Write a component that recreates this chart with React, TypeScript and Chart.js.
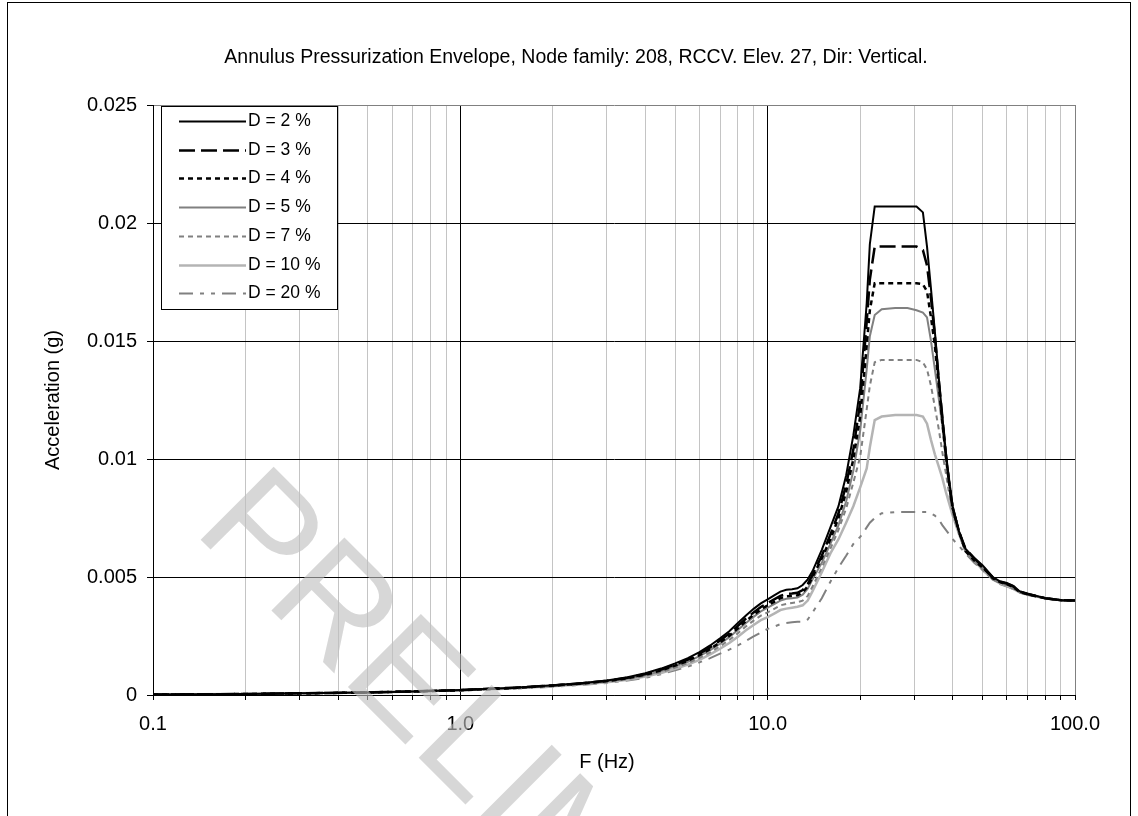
import React, { useEffect, useRef } from 'react';
import { Chart, registerables } from 'chart.js';

Chart.register(...registerables);

const FONT = "'Liberation Sans', Arial, sans-serif";

const TITLE = 'Annulus Pressurization Envelope, Node family: 208, RCCV. Elev. 27, Dir: Vertical.';
const X_TITLE = 'F (Hz)';
const Y_TITLE = 'Acceleration (g)';
const WATERMARK = 'PRELIMINARY';

// Frequencies (Hz)
const freq = [
  0.1, 0.2, 0.3, 0.5, 0.7, 1.0, 1.5, 2.0, 2.5, 3.0, 3.5, 4.0, 4.5, 5.0, 5.5, 6.0, 6.5, 7.0, 7.5, 8.0, 8.5, 9.0, 9.5,
  10.0, 10.5, 11.0, 11.5, 12.0, 12.5, 13.0, 13.5,
  14.0, 15.0, 16.0, 17.0, 18.0, 19.0, 20.0, 21.0, 21.5,
  22.3, 23.5, 26.0, 28.5, 30.5, 32.0,
  33.0, 34.0, 35.0, 36.0, 37.0, 38.0, 39.0, 40.0, 42.0,
  44.0, 47.0, 50.0, 52.0, 54.0, 57.0, 60.0, 63.0, 66.0, 70.0, 80.0, 90.0, 100.0,
];

const d2 = [
  0.00002, 0.00004, 0.00007, 0.00011, 0.00015, 0.00021, 0.00031, 0.00041, 0.00051, 0.00061, 0.00075, 0.00092, 0.00112, 0.00134, 0.00156, 0.00182, 0.0021, 0.0024, 0.0027, 0.00305, 0.00337, 0.00365, 0.00388,
  0.00405, 0.00422, 0.00438, 0.00446, 0.00448, 0.00452, 0.00466, 0.0049,
  0.00525, 0.00615, 0.0071, 0.008, 0.0093, 0.011, 0.013, 0.0166, 0.0191,
  0.0207, 0.0207, 0.0207, 0.0207, 0.0207, 0.02045,
  0.019, 0.0172, 0.0154, 0.0135, 0.0118, 0.0103, 0.009, 0.008, 0.0069,
  0.0062, 0.0058, 0.0055, 0.00525, 0.005, 0.00482, 0.00475, 0.00462, 0.0044, 0.0043, 0.0041, 0.00402, 0.004,
];

const d3 = [
  0.00002, 0.00004, 0.00007, 0.00011, 0.00015, 0.00021, 0.00031, 0.0004, 0.0005, 0.0006, 0.00073, 0.00089, 0.00108, 0.00129, 0.0015, 0.00175, 0.00202, 0.00231, 0.0026, 0.00293, 0.00324, 0.0035, 0.00373,
  0.0039, 0.00405, 0.0042, 0.00428, 0.0043, 0.00433, 0.00445, 0.0047,
  0.0051, 0.0059, 0.0068, 0.0077, 0.0089, 0.0104, 0.0124, 0.0158, 0.0176,
  0.019, 0.019, 0.019, 0.019, 0.019, 0.01885,
  0.0182, 0.0168, 0.0152, 0.0134, 0.0118, 0.0102, 0.0089, 0.0079, 0.0069,
  0.0062, 0.0058, 0.00545, 0.0052, 0.00498, 0.0048, 0.00472, 0.0046, 0.00438, 0.00428, 0.0041, 0.00402, 0.004,
];

const d4 = [
  0.00002, 0.00004, 0.00007, 0.00011, 0.00015, 0.0002, 0.0003, 0.0004, 0.00049, 0.00059, 0.00071, 0.00086, 0.00104, 0.00125, 0.00145, 0.00169, 0.00195, 0.00223, 0.00251, 0.00283, 0.00313, 0.0034, 0.00362,
  0.0038, 0.00395, 0.0041, 0.00418, 0.0042, 0.00423, 0.00435, 0.0046,
  0.005, 0.0058, 0.0066, 0.0075, 0.0086, 0.01, 0.0118, 0.0148, 0.0163,
  0.01745, 0.01745, 0.01745, 0.01745, 0.01745, 0.0174,
  0.0171, 0.016, 0.0148, 0.0132, 0.0116, 0.0101, 0.0089, 0.0079, 0.0069,
  0.0061, 0.0057, 0.0054, 0.0052, 0.00495, 0.00478, 0.0047, 0.00457, 0.00437, 0.00427, 0.0041, 0.00402, 0.004,
];

const d5 = [
  0.00002, 0.00004, 0.00007, 0.00011, 0.00015, 0.0002, 0.0003, 0.00039, 0.00048, 0.00058, 0.0007, 0.00084, 0.00102, 0.00122, 0.00141, 0.00165, 0.0019, 0.00217, 0.00245, 0.00276, 0.00305, 0.00331, 0.00354,
  0.0037, 0.00385, 0.004, 0.00408, 0.0041, 0.00413, 0.00425, 0.0045,
  0.0049, 0.0056, 0.0064, 0.0072, 0.0082, 0.0095, 0.0112, 0.0138, 0.0152,
  0.0161, 0.01635, 0.0164, 0.0164, 0.0163, 0.0162,
  0.016, 0.015, 0.0138, 0.0126, 0.0114, 0.0101, 0.0091, 0.008, 0.0069,
  0.0061, 0.0057, 0.0054, 0.00515, 0.0049, 0.00476, 0.00468, 0.00455, 0.00436, 0.00426, 0.0041, 0.00402, 0.004,
];

const d7 = [
  0.00002, 0.00004, 0.00007, 0.00011, 0.00015, 0.0002, 0.00029, 0.00038, 0.00047, 0.00056, 0.00067, 0.00081, 0.00097, 0.00116, 0.00135, 0.00157, 0.00181, 0.00207, 0.00233, 0.00262, 0.00291, 0.00315, 0.00336,
  0.0035, 0.00365, 0.0038, 0.00386, 0.0039, 0.00393, 0.004, 0.0042,
  0.0046, 0.0054, 0.0062, 0.007, 0.0079, 0.009, 0.0101, 0.0121, 0.0131,
  0.0141, 0.0142, 0.0142, 0.0142, 0.0142, 0.0141,
  0.0138, 0.0131, 0.0122, 0.0113, 0.0103, 0.0094, 0.0085, 0.0077, 0.0068,
  0.0061, 0.0057, 0.0053, 0.0051, 0.0049, 0.00475, 0.00465, 0.0045, 0.00435, 0.00425, 0.0041, 0.00402, 0.004,
];

const d10 = [
  0.00002, 0.00004, 0.00007, 0.00011, 0.00015, 0.0002, 0.00029, 0.00037, 0.00046, 0.00054, 0.00065, 0.00078, 0.00093, 0.00111, 0.00129, 0.00149, 0.00172, 0.00196, 0.0022, 0.00247, 0.00274, 0.00297, 0.00317,
  0.0033, 0.00345, 0.0036, 0.00366, 0.0037, 0.00374, 0.0038, 0.004,
  0.0044, 0.0052, 0.006, 0.0066, 0.0073, 0.008, 0.0088, 0.0096, 0.0105,
  0.01165, 0.0118, 0.01186, 0.01186, 0.01186, 0.0118,
  0.0115, 0.0108, 0.0102, 0.0097, 0.0092, 0.0086, 0.0081, 0.0076, 0.0068,
  0.0061, 0.0057, 0.0053, 0.0051, 0.0049, 0.00473, 0.00463, 0.0045, 0.00435, 0.00425, 0.0041, 0.00402, 0.004,
];

const d20 = [
  0.00002, 0.00004, 0.00006, 0.0001, 0.00014, 0.00019, 0.00027, 0.00035, 0.00043, 0.00051, 0.00061, 0.00073, 0.00088, 0.00105, 0.0012, 0.00138, 0.00156, 0.00175, 0.00192, 0.0021, 0.00229, 0.00248, 0.00265,
  0.0028, 0.0029, 0.003, 0.00305, 0.00308, 0.0031, 0.0031, 0.0032,
  0.0035, 0.0041, 0.0048, 0.0054, 0.0059, 0.0064, 0.0067, 0.0071, 0.0073,
  0.0075, 0.0077, 0.00775, 0.00775, 0.00775, 0.00775,
  0.00775, 0.0077, 0.0076, 0.00745, 0.0072, 0.007, 0.0068, 0.0066, 0.0063,
  0.006, 0.0056, 0.0053, 0.0051, 0.0049, 0.0047, 0.0046, 0.00448, 0.00435, 0.00425, 0.0041, 0.00402, 0.004,
];

const seriesLabels = ['D = 2 %', 'D = 3 %', 'D = 4 %', 'D = 5 %', 'D = 7 %', 'D = 10 %', 'D = 20 %'];
const seriesValues = [d2, d3, d4, d5, d7, d10, d20];

const xGridValues = [0.1, 0.2, 0.3, 0.4, 0.5, 0.6, 0.7, 0.8, 0.9, 1, 2, 3, 4, 5, 6, 7, 8, 9, 10, 20, 30, 40, 50, 60, 70, 80, 90, 100];
const xLabelValues = [0.1, 1, 10, 100];
const xLabelTexts = ['0.1', '1.0', '10.0', '100.0'];
const yTickValues = [0, 0.005, 0.01, 0.015, 0.02, 0.025];
const yTickLabels = ['0', '0.005', '0.01', '0.015', '0.02', '0.025'];

const seriesStyles = [
  { color: '#000000', width: 2, dash: [] as number[] },
  { color: '#000000', width: 2.5, dash: [16, 6] },
  { color: '#000000', width: 2.5, dash: [5, 4] },
  { color: '#808080', width: 2, dash: [] as number[] },
  { color: '#808080', width: 2, dash: [5, 4] },
  { color: '#b4b4b4', width: 2.5, dash: [] as number[] },
  { color: '#808080', width: 2, dash: [14, 7, 4, 7, 4, 7] },
];

const near = (a: number, b: number) => Math.abs(a - b) < 1e-9 * Math.max(1, Math.abs(b));

const framePlugin = {
  id: 'frame',
  beforeDraw(chart: any) {
    const ctx = chart.ctx;
    ctx.save();
    ctx.fillStyle = '#ffffff';
    ctx.fillRect(0, 0, chart.width, chart.height);
    ctx.strokeStyle = '#000000';
    ctx.lineWidth = 1;
    ctx.strokeRect(7.5, 2.5, 1123, 900);
    ctx.restore();
  },
  afterDraw(chart: any) {
    const ctx = chart.ctx;
    ctx.save();
    ctx.fillStyle = '#000000';
    ctx.font = `19.5px ${FONT}`;
    ctx.textAlign = 'center';
    ctx.textBaseline = 'middle';
    ctx.fillText(TITLE, 576, 58);
    ctx.font = `20px ${FONT}`;
    ctx.fillText(X_TITLE, 607, 762);
    ctx.restore();
  },
};

const watermarkPlugin = {
  id: 'watermark',
  afterDatasetsDraw(chart: any) {
    const ctx = chart.ctx;
    ctx.save();
    ctx.translate(192, 531);
    ctx.rotate((45 * Math.PI) / 180);
    ctx.font = `150px ${FONT}`;
    ctx.fillStyle = 'rgba(190,190,190,0.62)';
    ctx.textAlign = 'left';
    ctx.textBaseline = 'alphabetic';
    ctx.fillText(WATERMARK, 0, 0);
    ctx.restore();
  },
};

const legendPlugin = {
  id: 'boxLegend',
  afterDatasetsDraw(chart: any) {
    const ctx = chart.ctx;
    const area = chart.chartArea;
    const left = area.left + 8;
    const top = area.top + 1;
    const w = 176;
    const rowH = 28.7;
    const h = 203;
    ctx.save();
    ctx.fillStyle = '#ffffff';
    ctx.fillRect(left, top, w, h);
    ctx.strokeStyle = '#000000';
    ctx.lineWidth = 1;
    ctx.strokeRect(Math.round(left) + 0.5, Math.round(top) + 0.5, w, h);
    chart.data.datasets.forEach((ds: any, i: number) => {
      const y = Math.round(top + 15 + i * rowH) + 0.5;
      ctx.beginPath();
      ctx.setLineDash(ds.borderDash || []);
      ctx.strokeStyle = ds.borderColor;
      ctx.lineWidth = ds.borderWidth;
      ctx.moveTo(left + 18, y);
      ctx.lineTo(left + 85, y);
      ctx.stroke();
      ctx.setLineDash([]);
      ctx.fillStyle = '#000000';
      ctx.font = `17.5px ${FONT}`;
      ctx.textAlign = 'left';
      ctx.textBaseline = 'middle';
      ctx.fillText(ds.label, left + 87, y);
    });
    ctx.restore();
  },
};

export default function App() {
  const canvasRef = useRef<HTMLCanvasElement | null>(null);

  useEffect(() => {
    if (!canvasRef.current) return;
    Chart.defaults.font.family = FONT;
    Chart.defaults.color = '#000000';

    const datasets = seriesValues.map((vals, i) => ({
      label: seriesLabels[i],
      data: freq.map((f, j) => ({ x: f, y: vals[j] })),
      borderColor: seriesStyles[i].color,
      backgroundColor: seriesStyles[i].color,
      borderWidth: seriesStyles[i].width,
      borderDash: seriesStyles[i].dash,
      pointRadius: 0,
      pointHoverRadius: 0,
      tension: 0,
      fill: false,
    }));

    const chart = new Chart(canvasRef.current, {
      type: 'line',
      data: { datasets },
      options: {
        animation: false,
        responsive: false,
        devicePixelRatio: 1,
        layout: { padding: { left: 0, right: 63, top: 105, bottom: 0 } },
        plugins: {
          legend: { display: false },
          title: { display: false },
          tooltip: { enabled: false },
        },
        scales: {
          x: {
            type: 'logarithmic',
            min: 0.1,
            max: 100,
            afterBuildTicks: (scale: any) => {
              scale.ticks = xGridValues.map((v) => ({ value: v }));
            },
            afterFit: (scale: any) => {
              scale.height = 121;
            },
            ticks: {
              autoSkip: false,
              maxRotation: 0,
              minRotation: 0,
              padding: 12,
              color: '#000000',
              font: { size: 20, family: FONT },
              callback: (value: any) => {
                const idx = xLabelValues.findIndex((v) => near(Number(value), v));
                return idx >= 0 ? xLabelTexts[idx] : '';
              },
            },
            grid: {
              color: (ctx: any) => {
                const v = ctx.tick ? ctx.tick.value : 0;
                if (near(v, 100)) return '#808080';
                if (xLabelValues.some((d) => near(v, d))) return '#000000';
                return '#c4c4c4';
              },
              lineWidth: 1,
              tickLength: 5,
              tickColor: '#000000',
              drawTicks: true,
            },
            border: { display: true, color: '#000000', width: 1 },
            title: { display: false, text: X_TITLE },
          },
          y: {
            type: 'linear',
            min: 0,
            max: 0.025,
            afterBuildTicks: (scale: any) => {
              scale.ticks = yTickValues.map((v) => ({ value: v }));
            },
            afterFit: (scale: any) => {
              scale.width = 153;
            },
            ticks: {
              autoSkip: false,
              padding: 10,
              color: '#000000',
              font: { size: 20, family: FONT },
              callback: (value: any) => {
                const idx = yTickValues.findIndex((v) => Math.abs(Number(value) - v) < 1e-9);
                return idx >= 0 ? yTickLabels[idx] : '';
              },
            },
            grid: {
              color: (ctx: any) => {
                const v = ctx.tick ? ctx.tick.value : 0;
                if (Math.abs(v - 0.025) < 1e-9) return '#808080';
                return '#000000';
              },
              lineWidth: 1,
              tickLength: 6,
              tickColor: '#000000',
              drawTicks: true,
            },
            border: { display: true, color: '#000000', width: 1 },
            title: {
              display: true,
              text: Y_TITLE,
              color: '#000000',
              font: { size: 20, family: FONT },
              padding: { top: 41, bottom: 0 },
            },
          },
        },
      },
      plugins: [framePlugin, watermarkPlugin, legendPlugin],
    } as any);

    return () => {
      chart.destroy();
    };
  }, []);

  return (
    <div style={{ position: 'absolute', left: 0, top: 0, width: 1138, height: 816, background: '#ffffff' }}>
      <canvas ref={canvasRef} width={1138} height={816} style={{ display: 'block', width: 1138, height: 816 }} />
    </div>
  );
}
